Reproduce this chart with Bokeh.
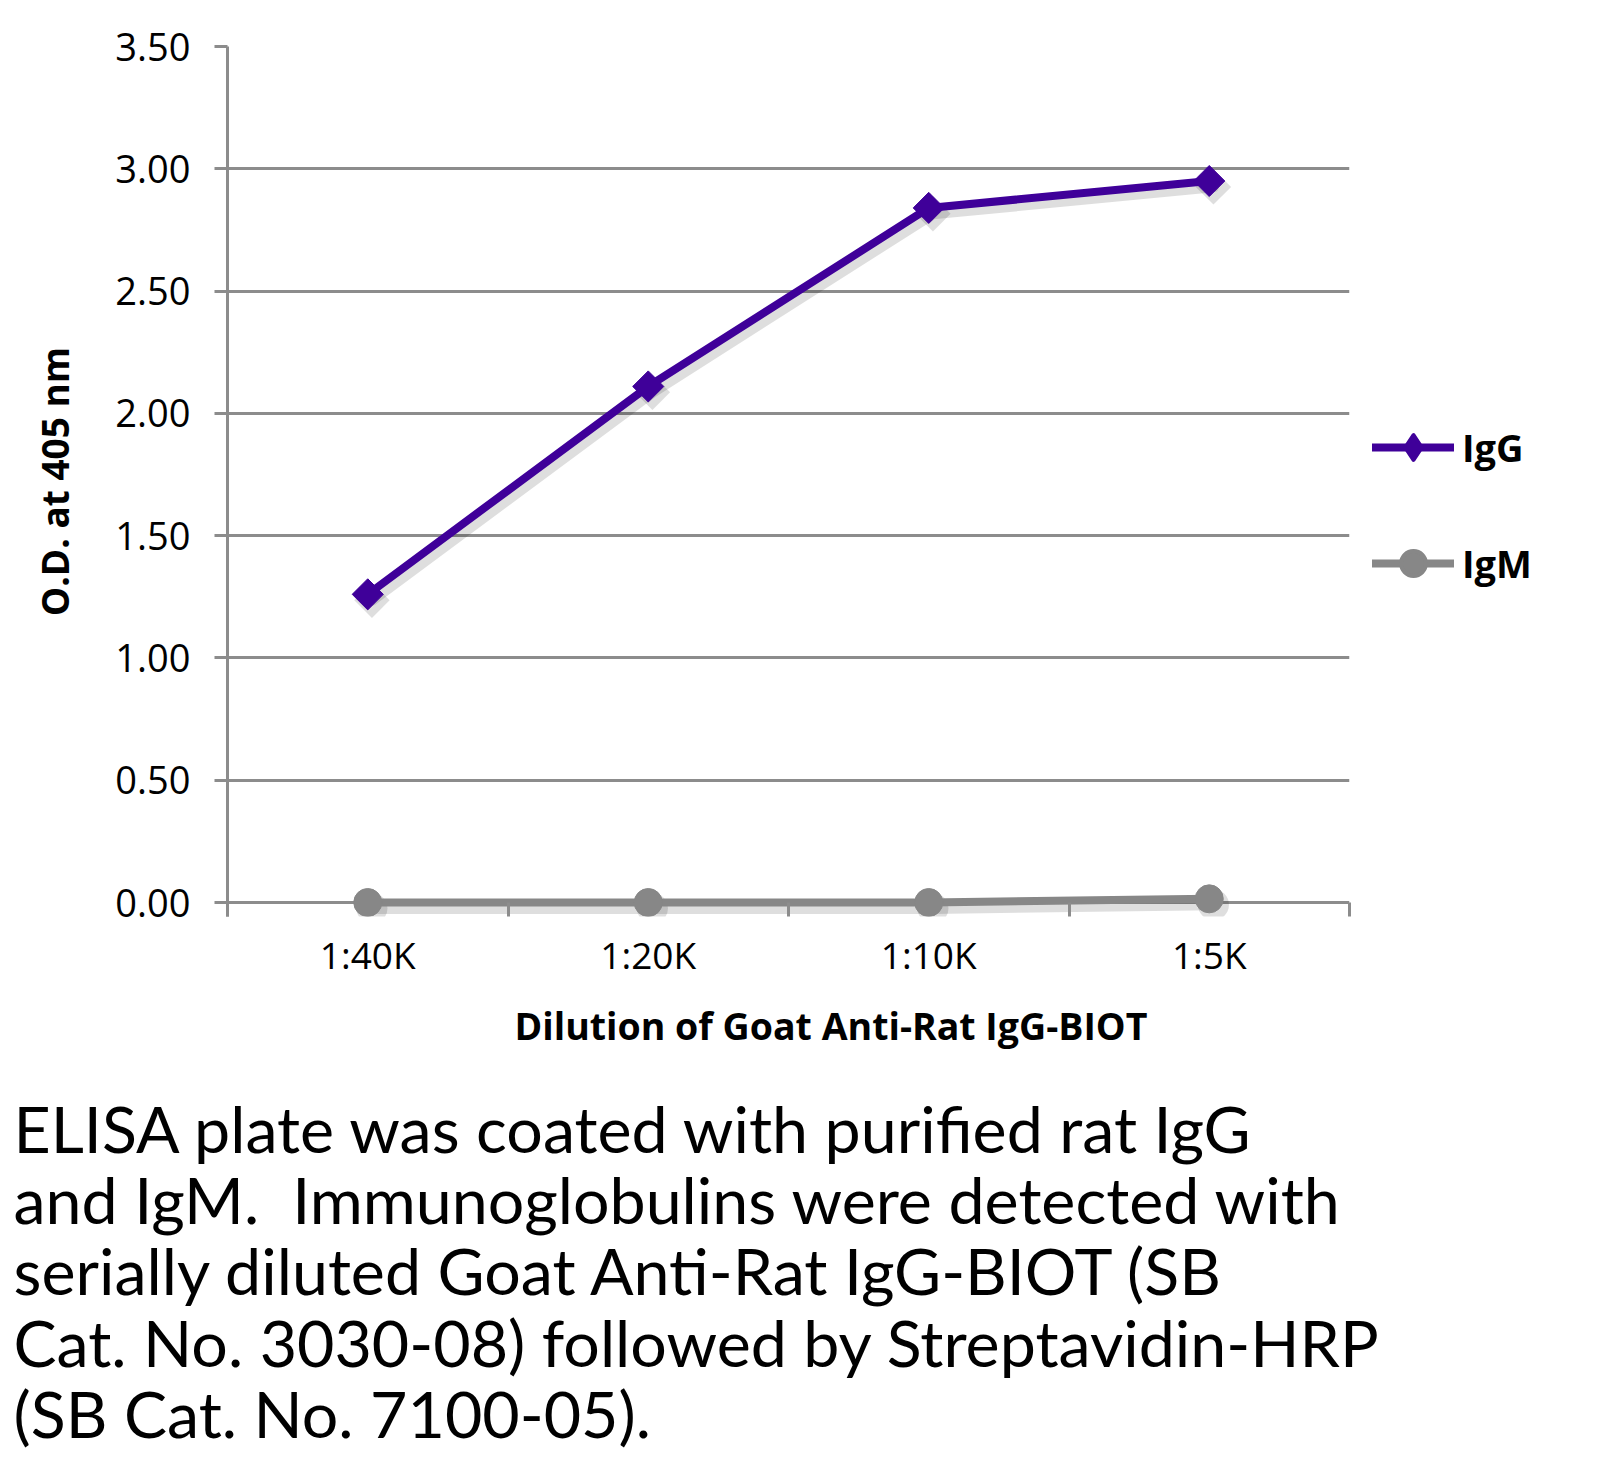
import math
from bokeh.plotting import figure
from bokeh.models import (Range1d, FixedTicker, PrintfTickFormatter, Legend,
                          LegendItem, ColumnDataSource, Title)
from bokeh.transform import dodge
from bokeh.embed import file_html
from bokeh.resources import INLINE

# ---- data ----
categories = ["1:40K", "1:20K", "1:10K", "1:5K"]
igg = [1.26, 2.11, 2.84, 2.95]
igm = [0.0, 0.0, 0.0, 0.015]
y_ticks = [0.0, 0.5, 1.0, 1.5, 2.0, 2.5, 3.0, 3.5]
x_title = "Dilution of Goat Anti-Rat IgG-BIOT"
y_title = "O.D. at 405 nm"
series_names = ["IgG", "IgM"]
caption_lines = [
    "ELISA plate was coated with purified rat IgG",
    "and IgM.\u00a0 Immunoglobulins were detected with",
    "serially diluted Goat Anti-Rat IgG-BIOT (SB",
    "Cat. No. 3030-08) followed by Streptavidin-HRP",
    "(SB Cat. No. 7100-05).",
]

PURPLE = "#3f0099"
GRAY = "#878787"
GRID = "#8c8c8c"
FONT = "Open Sans"

xpos = list(range(len(categories)))
src = ColumnDataSource(dict(x=xpos, igg=igg, igm=igm))

p = figure(frame_width=1122, frame_height=870, output_backend="svg", toolbar_location=None,
           x_range=Range1d(-0.5, len(categories) - 0.5),
           y_range=Range1d(-0.0572, 3.5),
           min_border_left=227, min_border_right=251,
           min_border_top=46, min_border_bottom=0)
p.outline_line_color = None
p.background_fill_color = "white"
p.xgrid.visible = False

# y axis
ya = p.yaxis[0]
ya.ticker = FixedTicker(ticks=y_ticks, minor_ticks=[])
ya.formatter = PrintfTickFormatter(format="%.2f")
ya.axis_line_color = GRID
ya.axis_line_width = 3
ya.major_tick_line_color = GRID
ya.major_tick_line_width = 3
ya.major_tick_out = 13
ya.major_tick_in = 0
ya.minor_tick_line_color = None
ya.major_label_standoff = 24
ya.major_label_text_font = FONT
ya.major_label_text_font_size = "38px"
ya.major_label_text_color = "black"
ya.axis_label = y_title
ya.axis_label_text_font = FONT
ya.axis_label_text_font_style = "bold"
ya.axis_label_text_font_size = "37px"
ya.axis_label_text_color = "black"
ya.axis_label_standoff = 32

p.ygrid.grid_line_color = GRID
p.ygrid.grid_line_width = 3

# x axis (at frame bottom; boundary ticks reach up to the 0.00 line)
xa = p.xaxis[0]
xa.ticker = FixedTicker(ticks=xpos, minor_ticks=[i - 0.5 for i in range(len(categories) + 1)])
xa.major_label_overrides = {i: c for i, c in enumerate(categories)}
xa.axis_line_color = None
xa.major_tick_line_color = None
xa.major_tick_out = 0
xa.major_tick_in = 0
xa.minor_tick_line_color = GRID
xa.minor_tick_line_width = 3
xa.minor_tick_out = 0
xa.minor_tick_in = 14
xa.major_label_standoff = 12
xa.major_label_text_font = FONT
xa.major_label_text_font_size = "37px"
xa.major_label_text_color = "black"

# shadows
for col in ["igg", "igm"]:
    p.line(x=dodge("x", 0.015), y=dodge(col, -0.024), source=src,
           line_color="black", line_alpha=0.13, line_width=11, line_cap="round", line_join="round")
p.scatter(x=dodge("x", 0.015), y=dodge("igg", -0.024), source=src, marker="square",
          angle=math.pi / 4, size=25, fill_color="black", fill_alpha=0.13, line_color=None)
p.scatter(x=dodge("x", 0.015), y=dodge("igm", -0.024), source=src, marker="circle",
          size=31, fill_color="black", fill_alpha=0.13, line_color=None)

# series
l1 = p.line("x", "igg", source=src, line_color=PURPLE, line_width=8,
            line_cap="round", line_join="round")
s1 = p.scatter("x", "igg", source=src, marker="square", angle=math.pi / 4, size=22,
               fill_color=PURPLE, line_color=PURPLE)
l2 = p.line("x", "igm", source=src, line_color=GRAY, line_width=8,
            line_cap="round", line_join="round")
s2 = p.scatter("x", "igm", source=src, marker="circle", size=28,
               fill_color=GRAY, line_color=GRAY)

# legend-only markers (one point far outside the visible ranges)
off = ColumnDataSource(dict(x=[-10], y=[-10]))
m1_leg = p.scatter("x", "y", source=off, marker="diamond", size=10,
                   fill_color=PURPLE, line_color=PURPLE, line_width=4, line_join="round")
m2_leg = p.scatter("x", "y", source=off, marker="circle", size=10,
                   fill_color=GRAY, line_color=GRAY, line_width=4)

legend = Legend(items=[LegendItem(label=series_names[0], renderers=[l1, m1_leg]),
                       LegendItem(label=series_names[1], renderers=[l2, m2_leg])],
                location=(23, 322), orientation="vertical",
                glyph_width=82, glyph_height=62, label_standoff=8, spacing=54,
                label_text_font=FONT, label_text_font_style="bold",
                label_text_font_size="38px", label_text_color="black",
                label_height=62, padding=0, margin=0, border_line_color=None,
                background_fill_alpha=0)
p.add_layout(legend, "right")

# x axis title (a little right of the frame centre, as in the original)
p.add_layout(Title(text=x_title, align="left", offset=287, standoff=31,
                   text_font=FONT, text_font_style="bold", text_font_size="37.5px",
                   text_color="black"), "below")
# caption paragraph
p.add_layout(Title(text="\n".join(caption_lines), align="left", offset=-214, standoff=41,
                   text_font="Lato", text_font_style="normal", text_font_size="64.5px",
                   text_line_height=0.914, text_color="black"), "below")

open("out.html", "w").write(file_html(p, INLINE))
